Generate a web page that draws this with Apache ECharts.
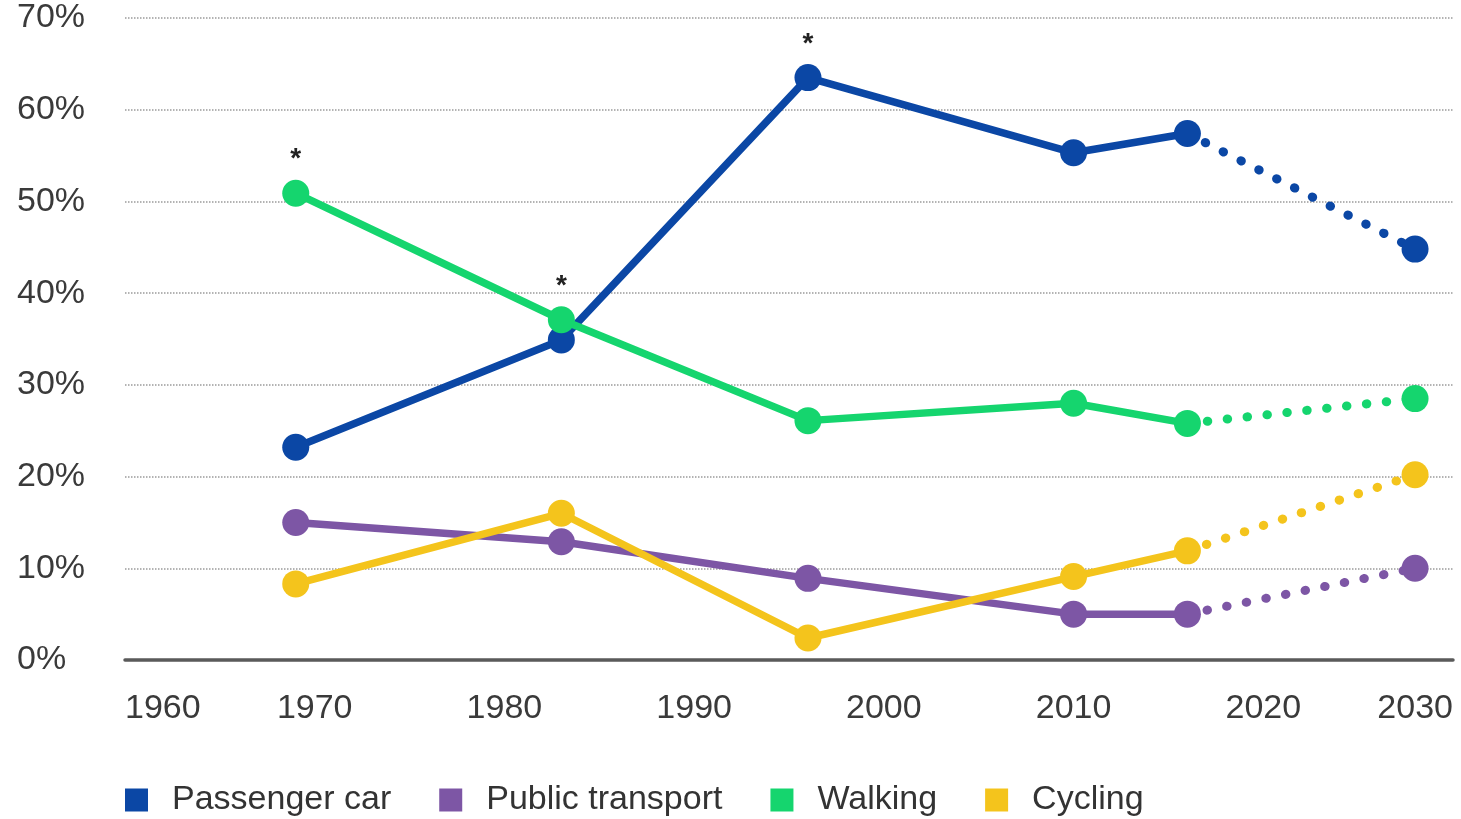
<!DOCTYPE html>
<html>
<head>
<meta charset="utf-8">
<script src="https://cdn.jsdelivr.net/npm/echarts@6/dist/echarts.min.js"></script>
<style>
  html, body { margin: 0; padding: 0; background: #fff; }
  #chart { width: 1461px; height: 819px; }
</style>
</head>
<body>
<div id="chart"></div>
<script>
// survey years (the last point sits under the 2030 tick in the picture)
const years = [1969, 1983, 1996, 2010, 2016, 2028]
const modes = ['Passenger car', 'Public transport', 'Walking', 'Cycling']
const colors = ['#0b47a5', '#7d56a5', '#15d56e', '#f4c41c']

// share of trips, %
const passengerCar = [23.2, 34.9, 63.5, 55.3, 57.4, 44.8]
const publicTransport = [15.0, 12.9, 8.9, 5.0, 5.0, 10.0]
const walking = [50.9, 37.1, 26.1, 28.0, 25.8, 28.5]
const cycling = [8.3, 16.0, 2.4, 9.1, 11.9, 20.2]

// which point of which mode carries the '*' note
const notes = [
  { mode: 'Walking', index: 0 },
  { mode: 'Walking', index: 1 },
  { mode: 'Passenger car', index: 2 }
]

const values = [passengerCar, publicTransport, walking, cycling]
const fontFamily = 'Liberation Sans, Arial, sans-serif'

function solidData(name, vals) {
  return years.slice(0, 5).map((y, i) => {
    const item = { value: [y, vals[i]] }
    if (notes.some(n => n.mode === name && n.index === i)) {
      item.label = {
        show: true,
        position: 'top',
        distance: 6,
        formatter: '*',
        color: '#222',
        fontSize: 28,
        fontWeight: 'bold',
        fontFamily: fontFamily
      }
    }
    return item
  })
}

function dottedData(vals) {
  return years.slice(4).map((y, i) => ({
    value: [y, vals[i + 4]],
    symbolSize: i === 0 ? 0 : 27
  }))
}

// draw order: car, public, cycling, walking on top
const order = [0, 1, 3, 2]
const series = []
order.forEach(k => {
  series.push({
    name: modes[k],
    type: 'line',
    data: dottedData(values[k]),
    symbol: 'circle',
    showSymbol: true,
    itemStyle: { color: colors[k] },
    lineStyle: { color: colors[k], width: 9, type: [0.5, 19.5], cap: 'round' },
    z: 2
  })
  series.push({
    name: modes[k],
    type: 'line',
    data: solidData(modes[k], values[k]),
    symbol: 'circle',
    symbolSize: 27,
    itemStyle: { color: colors[k] },
    lineStyle: { color: colors[k], width: 7.5 },
    z: 3
  })
})

const chart = echarts.init(document.getElementById('chart'))
chart.setOption({
  animation: false,
  color: colors,
  grid: { left: 125, right: 8, top: 18, bottom: 159 },
  legend: {
    data: modes,
    left: 120,
    top: 778,
    icon: 'rect',
    itemWidth: 23,
    itemHeight: 23,
    itemGap: 48,
    textStyle: {
      fontSize: 34,
      color: '#333',
      fontFamily: fontFamily,
      padding: [0, 0, 0, 19]
    }
  },
  xAxis: {
    type: 'value',
    min: 1960,
    max: 2030,
    interval: 10,
    axisLine: { show: true, lineStyle: { color: '#5a5a5a', width: 3.5 } },
    axisTick: { show: false },
    splitLine: { show: false },
    axisLabel: {
      margin: 32,
      fontSize: 34,
      color: '#3a3a3a',
      fontFamily: fontFamily,
      formatter: v => String(v),
      alignMinLabel: 'left',
      alignMaxLabel: 'right'
    }
  },
  yAxis: {
    type: 'value',
    min: 0,
    max: 70,
    interval: 10,
    axisLine: { show: false },
    axisTick: { show: false },
    splitLine: { lineStyle: { color: '#9a9a9a', width: 1.5, type: 'dotted' } },
    axisLabel: {
      formatter: '{value}%',
      align: 'left',
      margin: 108,
      fontSize: 34,
      color: '#3a3a3a',
      fontFamily: fontFamily
    }
  },
  series: series
})
</script>
</body>
</html>
